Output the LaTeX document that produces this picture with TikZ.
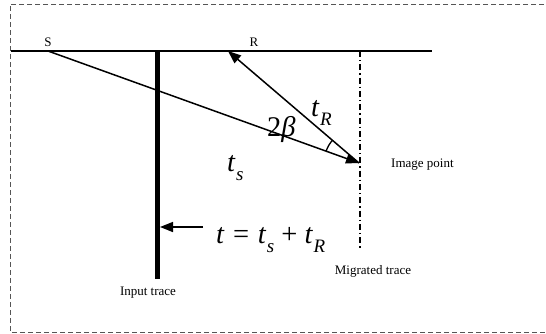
\documentclass[tikz,border=0pt]{standalone}
\usepackage{fontspec}
\setmainfont{Liberation Serif}
\usetikzlibrary{arrows.meta}
\definecolor{framegray}{HTML}{555555}
\newcommand\tsub[1]{\textit{t}\kern0.5pt\raisebox{-0.34em}{\fontsize{19}{19}\selectfont\textit{#1}}}

\begin{document}
\begin{tikzpicture}[x=1pt,y=-1pt,every node/.style={font=\fontsize{13}{15}\selectfont,inner sep=0pt},bigsym/.style={font=\fontsize{28.5}{30}\selectfont},ray/.style={line width=1.5pt,-{Triangle[length=13pt,width=10pt]}}]
\useasboundingbox (0,0) rectangle (546,333);
\draw[framegray,dash pattern=on 5pt off 3pt,line width=1pt] (552,4)--(10,4)--(10,332)--(552,332);
\coordinate (w) at (11,51);\coordinate (e) at (432,51);
\coordinate (src) at (48,51);\coordinate (rcv) at (228,51);\coordinate (img) at (359,163);
\coordinate (intop) at (157,51);\coordinate (inbot) at (157,279);
\coordinate (mgtop) at (360,51);\coordinate (mgbot) at (360,248);
\coordinate (tail) at (203,227);\coordinate (hit) at (160,227);
\draw[line width=1.7pt] (w)--(e);
\draw[line width=5pt] (intop)--(inbot);
\draw[line width=1.3pt,dash pattern=on 6pt off 3pt on 1.3pt off 3pt] (mgtop)--(mgbot);
\draw[ray] (src)--(img);\draw[ray] (img)--(rcv);
\draw[line width=1.3pt] (img) ++(160.2:35pt) arc[start angle=160.2,end angle=139.5,radius=35pt];
\draw[ray] (tail)--(hit);
\node (slab) at (48,42){S};\node (rlab) at (254,42){R};
\node[anchor=west] (imglab) at (391,165){Image point};
\node (miglab) at (373,271){Migrated trace};
\node (inlab) at (148,293){Input trace};
\node[bigsym,anchor=base west] (tr) at (311,116){\tsub{R}};
\node[bigsym,anchor=base west] (beta) at (267,136){2\textit{β}};
\node[bigsym,anchor=base west] (ts) at (227,171){\tsub{s}};
\node[bigsym,anchor=base west] (eq) at (216,243){\textit{t}\hspace{0.3em}=\hspace{0.3em}\tsub{s}\hspace{0.25em}+\hspace{0.25em}\tsub{R}};
\end{tikzpicture}
\end{document}
